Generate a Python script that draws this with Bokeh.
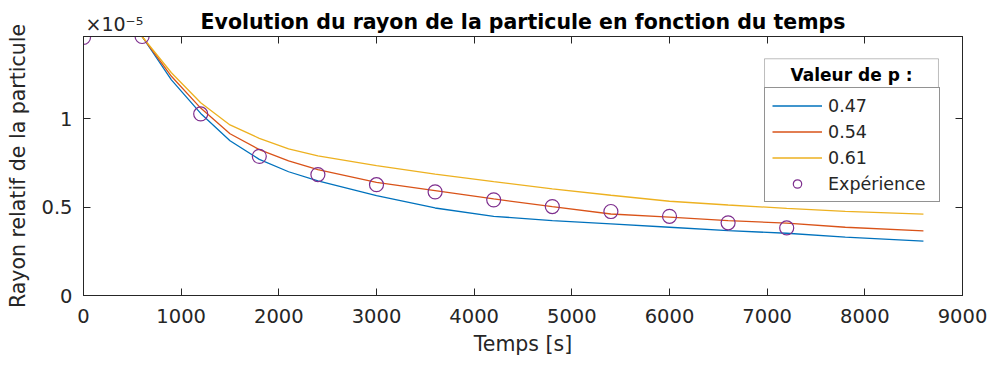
from bokeh.plotting import figure
from bokeh.models import (Range1d, FixedTicker, LinearAxis, Legend, LegendItem,
                          BoxAnnotation, Label, Title)
from bokeh.embed import file_html
from bokeh.resources import INLINE

# ---------------- data ----------------
title_text = "Evolution du rayon de la particule en fonction du temps"
x_label = "Temps [s]"
y_label = "Rayon relatif de la particule"
legend_title = "Valeur de p :"
series_names = ["0.47", "0.54", "0.61"]
exp_name = "Expérience"
scale_text = "×10⁻⁵"

t_model = [600, 900, 1200, 1500, 1800, 2100, 2400, 3000, 3600, 4200, 4800,
           5400, 6000, 6600, 7200, 7800, 8600]
r_p047 = [1.465, 1.22, 1.03, 0.875, 0.77, 0.70, 0.648, 0.565, 0.495, 0.448,
          0.424, 0.405, 0.386, 0.367, 0.352, 0.330, 0.308]
r_p054 = [1.465, 1.24, 1.06, 0.915, 0.825, 0.762, 0.712, 0.640, 0.593, 0.546,
          0.503, 0.461, 0.443, 0.424, 0.409, 0.386, 0.365]
r_p061 = [1.465, 1.26, 1.09, 0.965, 0.889, 0.830, 0.790, 0.735, 0.687, 0.644,
          0.603, 0.567, 0.533, 0.512, 0.493, 0.476, 0.460]

t_exp = [0, 600, 1200, 1800, 2400, 3000, 3600, 4200, 4800, 5400, 6000, 6600, 7200]
r_exp = [1.46, 1.465, 1.027, 0.787, 0.684, 0.627, 0.586, 0.541, 0.503, 0.475,
         0.448, 0.411, 0.382]

x_ticks = [0, 1000, 2000, 3000, 4000, 5000, 6000, 7000, 8000, 9000]
y_ticks = [0, 0.5, 1]
y_tick_labels = {0: "0", 0.5: "0.5", 1: "1"}

# ---------------- style ----------------
FONT = "DejaVu Sans"
AX = "#262626"
colors = ["#0072BD", "#D95319", "#EDB120"]
exp_color = "#7E2F8E"

p = figure(width=989, height=367,
           x_range=Range1d(0, 9000), y_range=Range1d(0, 1.465),
           output_backend="svg", toolbar_location=None,
           min_border_left=83, min_border_right=27,
           min_border_top=36, min_border_bottom=72)

p.xgrid.visible = False
p.ygrid.visible = False
p.outline_line_color = AX
p.outline_line_width = 1
p.background_fill_color = "white"

for ax in (p.xaxis[0], p.yaxis[0]):
    ax.axis_line_color = AX
    ax.major_tick_line_color = AX
    ax.major_tick_in = 7
    ax.major_tick_out = 0
    ax.minor_tick_in = 0
    ax.minor_tick_out = 0
    ax.major_label_text_font = FONT
    ax.major_label_text_font_size = "19.5px"
    ax.major_label_text_color = AX
    ax.axis_label_text_font = FONT
    ax.axis_label_text_font_size = "20.5px"
    ax.axis_label_text_font_style = "normal"
    ax.axis_label_text_color = AX

p.xaxis[0].ticker = FixedTicker(ticks=x_ticks)
p.yaxis[0].ticker = FixedTicker(ticks=y_ticks)
p.yaxis[0].major_label_overrides = y_tick_labels
p.xaxis[0].axis_label = x_label
p.yaxis[0].axis_label = y_label
p.xaxis[0].major_label_standoff = 13
p.xaxis[0].axis_label_standoff = 6
p.yaxis[0].major_label_standoff = 11
p.yaxis[0].axis_label_standoff = 8

# mirrored ticks (box on), no labels
ax_top = LinearAxis(ticker=FixedTicker(ticks=x_ticks), major_tick_in=7, major_tick_out=0,
                    minor_tick_in=0, minor_tick_out=0, major_label_text_font_size="1px",
                    major_label_text_color=None,
                    major_label_standoff=0, axis_line_color=AX, major_tick_line_color=AX)
ax_right = LinearAxis(ticker=FixedTicker(ticks=y_ticks), major_tick_in=7, major_tick_out=0,
                      minor_tick_in=0, minor_tick_out=0, major_label_text_font_size="1px",
                      major_label_text_color=None,
                      major_label_standoff=0, axis_line_color=AX, major_tick_line_color=AX)
p.add_layout(ax_top, "above")
p.add_layout(ax_right, "right")

# main title, then the y-axis exponent pulled back down next to the frame
title_main = Title(text=title_text, align="center", standoff=5,
                   text_font=FONT, text_font_size="20.5px", text_font_style="bold",
                   text_color="black")
title_scale = Title(text=scale_text, align="left", offset=2, standoff=-58,
                    text_font=FONT, text_font_size="19px", text_font_style="normal",
                    text_color=AX)
p.add_layout(title_main, "above")
p.add_layout(title_scale, "above")

# ---------------- glyphs ----------------
renderers = []
for ys, c in zip([r_p047, r_p054, r_p061], colors):
    renderers.append(p.line(t_model, ys, line_color=c, line_width=1.3))
r_e = p.scatter(t_exp, r_exp, marker="circle", size=14, fill_color=None,
                line_color=exp_color, line_width=1.2)

# ---------------- legend ----------------
items = [LegendItem(label=n, renderers=[r]) for n, r in zip(series_names, renderers)]
items.append(LegendItem(label=exp_name, renderers=[r_e]))
legend = Legend(items=items, location=(681, 93), margin=0, padding=7, spacing=5,
                glyph_width=50, glyph_height=21, label_height=21, label_width=104,
                label_standoff=6, label_text_font=FONT, label_text_font_size="17.5px",
                label_text_color=AX, border_line_color=AX, border_line_width=1,
                background_fill_color="white", background_fill_alpha=1)
p.add_layout(legend)

title_box = BoxAnnotation(left=6973, right=8754, bottom=1.158, top=1.339,
                          fill_color="white", fill_alpha=1,
                          line_color=AX, line_width=1, level="annotation")
p.add_layout(title_box)
p.add_layout(Label(x=7864, y=1.249, text=legend_title, text_align="center",
                   text_baseline="middle", text_font=FONT, text_font_size="17px",
                   text_font_style="bold", text_color="black"))

open("out.html", "w").write(file_html(p, INLINE))
